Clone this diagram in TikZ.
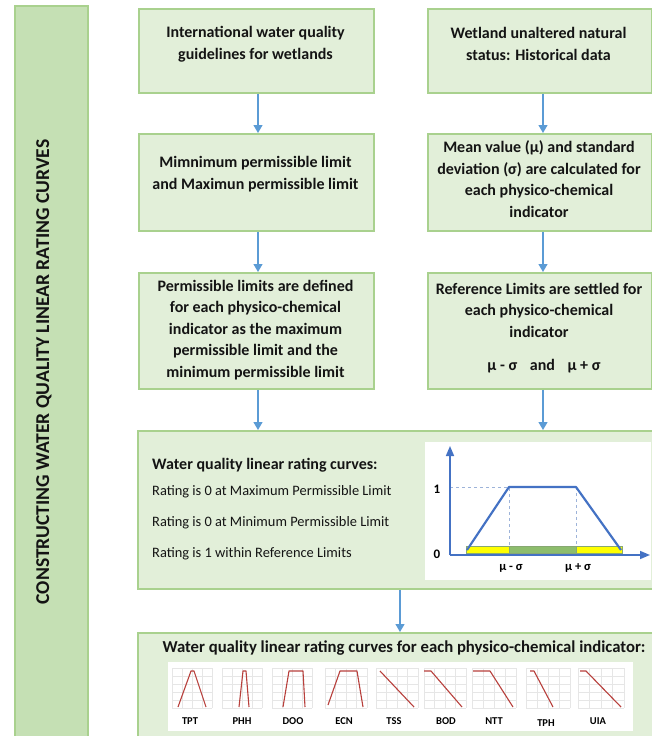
\documentclass[tikz,border=0pt]{standalone}
\usepackage{fontspec}
\setmainfont{Carlito}
\usetikzlibrary{arrows.meta,calc}
\definecolor{boxfill}{HTML}{E2EFD9}
\definecolor{boxline}{HTML}{A9D18E}
\definecolor{barfill}{HTML}{C5E0B4}
\definecolor{arrblue}{HTML}{5B9BD5}
\definecolor{axblue}{HTML}{4472C4}
\definecolor{dashc}{HTML}{9DB3D9}
\definecolor{ylw}{HTML}{FFFF00}
\definecolor{grn}{HTML}{70AD47}
\definecolor{dgrn}{HTML}{548235}
\definecolor{redl}{HTML}{B8403C}
\definecolor{gridc}{HTML}{E6E6E6}
\begin{document}
\begin{tikzpicture}[x=1pt,y=-1pt,
  box/.style={draw=boxline,fill=boxfill,line width=1.8pt,inner sep=0pt,anchor=north west},
  btxt/.style={font=\fontsize{16}{21.5}\selectfont\bfseries,align=center,inner sep=0pt,text=black!92},
  ltxt/.style={font=\fontsize{14.4}{18}\selectfont,anchor=base west,inner sep=0pt,text=black!92},
  arr/.style={draw=arrblue,line width=1.2pt,-{Triangle[width=9pt,length=8pt]}},
  axarr/.style={draw=axblue,line width=1.6pt,-{Triangle[width=8pt,length=10pt]}},
  mlab/.style={font=\fontsize{10.5}{11}\selectfont\bfseries,inner sep=0pt},
  redline/.style={draw=redl,line width=1.1pt,line join=round}]
\useasboundingbox (0,0) rectangle (651,736);

% left bar
\node[box,fill=barfill,minimum width=73pt,minimum height=745pt] (bar) at (14,5) {};
\node[rotate=90,font=\fontsize{19.6}{22}\selectfont\bfseries,inner sep=0pt,text=black!92] (title) at (44,372) {CONSTRUCTING WATER QUALITY LINEAR RATING CURVES};

% boxes
\node[box,minimum width=235pt,minimum height=84pt] (A) at (138,8) {};
\node[box,minimum width=224pt,minimum height=84pt] (B) at (427,8) {};
\node[box,minimum width=235pt,minimum height=97pt] (C) at (138,133) {};
\node[box,minimum width=224pt,minimum height=97pt] (D) at (427,133) {};
\node[box,minimum width=235pt,minimum height=116pt] (E) at (138,272) {};
\node[box,minimum width=224pt,minimum height=116pt] (F) at (427,272) {};
\node[box,minimum width=520pt,minimum height=158pt] (G) at (137,430) {};
\node[box,minimum width=520pt,minimum height=112pt] (H) at (137,632) {};

% box texts
\node[btxt] (tA) at (255.5,44) {International water quality\\guidelines for wetlands};
\node[btxt] (tB) at (538.5,44) {Wetland unaltered natural\\status: Historical data};
\node[btxt] (tC) at (255.5,174) {Mimnimum permissible limit\\and Maximun permissible limit};
\node[btxt] (tD) at (539,179) {Mean value (μ) and standard\\deviation (σ) are calculated for\\each physico-chemical\\indicator};
\node[btxt] (tF) at (539,328) {Reference Limits are settled for\\each physico-chemical\\indicator\\[12pt]\hspace*{10pt}μ - σ\hspace{9pt} and\hspace{9pt} μ + σ};
\node[btxt] (tE) at (255.5,330) {Permissible limits are defined\\for each physico-chemical\\indicator as the maximum\\permissible limit and the\\minimum permissible limit};

% arrows
\coordinate (lc) at (258,0);
\coordinate (rc) at (543,0);
\coordinate (mc) at (400,0);
\draw[arr] (A.south -| lc) -- (C.north -| lc);
\draw[arr] (C.south -| lc) -- (E.north -| lc);
\draw[arr] (E.south -| lc) -- (G.north -| lc);
\draw[arr] (B.south -| rc) -- (D.north -| rc);
\draw[arr] (D.south -| rc) -- (F.north -| rc);
\draw[arr] (F.south -| rc) -- (G.north -| rc);
\draw[arr] (G.south -| mc) -- (H.north -| mc);

% big box texts
\node[ltxt,font=\fontsize{16}{18}\selectfont\bfseries] (g1) at (152,469) {Water quality linear rating curves:};
\node[ltxt] (g2) at (152,495) {Rating is 0 at Maximum Permissible Limit};
\node[ltxt] (g3) at (152,526) {Rating is 0 at Minimum Permissible Limit};
\node[ltxt] (g4) at (152,557) {Rating is 1 within Reference Limits};

% chart
\fill[white] (425,442) rectangle (651,580);
\draw[dashc,dashed,line width=0.9pt] (450,487) -- (509,487) -- (509,546);
\draw[dashc,dashed,line width=0.9pt] (576,487) -- (576,546);
\draw[dgrn!70,line width=0.6pt,fill=ylw] (466,546) rectangle (509,553);
\draw[dgrn!70,line width=0.6pt,fill=grn!80!white] (509,546) rectangle (576,553);
\draw[dgrn!70,line width=0.6pt,fill=ylw] (576,546) rectangle (622,553);
\draw[axarr] (450,555) -- (450,446);
\draw[axarr] (450,555) -- (650,555);
\draw[axblue,line width=2.2pt,line join=round] (467,550) -- (509,487) -- (576,487) -- (621,550);
\node[font=\fontsize{13}{15}\selectfont\bfseries,inner sep=0pt] (one) at (437,489) {1};
\node[font=\fontsize{13}{15}\selectfont\bfseries,inner sep=0pt] (zero) at (437,554) {0};
\node[font=\fontsize{12.5}{15}\selectfont\bfseries,inner sep=0pt] (ms) at (511,568) {μ - σ};
\node[font=\fontsize{12.5}{15}\selectfont\bfseries,inner sep=0pt] (ps) at (578,568) {μ + σ};

% bottom box
\node[font=\fontsize{16.7}{18}\selectfont\bfseries,inner sep=0pt,text=black!92] (tH) at (404,648) {Water quality linear rating curves for each physico-chemical indicator:};
\fill[white] (168,662) rectangle (633,731);
\foreach \xa/\xb in {172/212,222/262,272/312,325/367,376/418,424/466,472/516,526/570,578/624}{
  \foreach \i in {0,...,4}{\draw[gridc,line width=0.4pt] ({\xa+\i*(\xb-\xa)/4},668) -- ({\xa+\i*(\xb-\xa)/4},708);}
  \foreach \j in {0,...,5}{\draw[gridc,line width=0.4pt] (\xa,{668+\j*8}) -- (\xb,{668+\j*8});}
}
\draw[redline] (178,707) -- (191,671) -- (194,671) -- (206,707);
\draw[redline] (239,707) -- (243,671) -- (246,671) -- (249,707);
\draw[redline] (283,707) -- (289,671) -- (303,671) -- (305,707);
\draw[redline] (328,705) -- (340,671) -- (357,671) -- (363,707);
\draw[redline] (380,671) -- (414,707);
\draw[redline] (424,671) -- (431,671) -- (462,707);
\draw[redline] (473,671) -- (490,671) -- (513,707);
\draw[redline] (530,671) -- (534,671) -- (553,707);
\draw[redline] (580,671) -- (586,671) -- (621,707);
\node[mlab] (l1) at (190,721) {TPT};
\node[mlab] (l2) at (242,721) {PHH};
\node[mlab] (l3) at (293,721) {DOO};
\node[mlab] (l4) at (344,721) {ECN};
\node[mlab] (l5) at (394,721) {TSS};
\node[mlab] (l6) at (446,721) {BOD};
\node[mlab] (l7) at (494,721) {NTT};
\node[mlab] (l8) at (546,723) {TPH};
\node[mlab] (l9) at (598,721) {UIA};
\end{tikzpicture}
\end{document}
